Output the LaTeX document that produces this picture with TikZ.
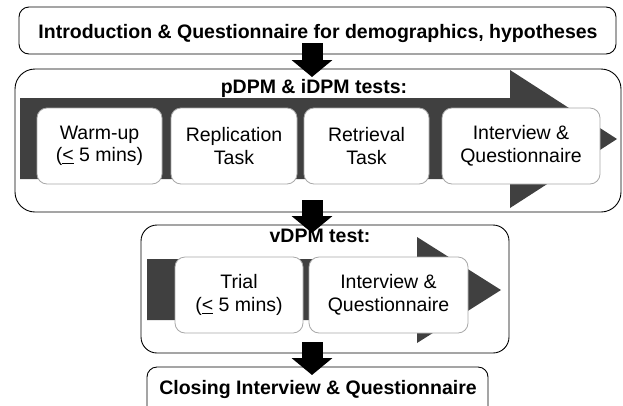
\documentclass[tikz,border=0pt]{standalone}
\usepackage{fontspec}
\setmainfont{Liberation Sans}
\usetikzlibrary{arrows.meta}
\definecolor{bandgray}{HTML}{404040}
\definecolor{boxline}{HTML}{A8A8A8}
\newcommand{\myle}{\underline{<}}
\begin{document}
\begin{tikzpicture}[x=1pt,y=-1pt,
  outerbox/.style={draw=black, line width=0.9pt, fill=white, rounded corners=#1},
  taskbox/.style={draw=boxline, line width=0.8pt, fill=white, rounded corners=10pt,
    align=center, inner sep=0pt, minimum height=76pt,
    font=\fontsize{19.5}{22.5}\selectfont},
  headtext/.style={font=\bfseries\fontsize{19.5}{23}\selectfont, anchor=base, inner sep=0pt},
  band/.style={fill=bandgray, draw=none},
  bigarrow/.style={line width=21pt, draw=black, -{Triangle[length=17pt,width=40pt]}}
]
\useasboundingbox (0,0) rectangle (623,405);
\clip (0,0) rectangle (623,405);

% top box
\draw[outerbox=10pt] (19,7) rectangle (616,54);
\node[headtext] (introtext) at (318,38) {Introduction \& Questionnaire for demographics, hypotheses};

% block 1
\draw[outerbox=20pt] (15,69) rectangle (621,212);
\fill[band] (20,98) -- (510,98) -- (510,70) -- (617,139) -- (510,208) -- (510,179) -- (20,179) -- cycle;
\node[headtext] (titleA) at (314,93) {pDPM \& iDPM tests:};
\node[taskbox, minimum width=125pt] (warm) at (99.5,146) {Warm-up\\(\myle{} 5 mins)};
\node[taskbox, minimum width=126pt] (repl) at (234,146) {Replication\\Task};
\node[taskbox, minimum width=125pt] (retr) at (366.5,146) {Retrieval\\Task};
\node[taskbox, minimum width=158pt] (intA) at (521,146) {Interview \&\\Questionnaire};

% block 2
\draw[outerbox=16pt] (141,225) rectangle (509,353);
\fill[band] (147,259) -- (417,259) -- (417,237) -- (501,290) -- (417,343) -- (417,320) -- (147,320) -- cycle;
\node[headtext] (titleB) at (320,242) {vDPM test:};
\node[taskbox, minimum width=128pt] (trial) at (239,295) {Trial\\(\myle{} 5 mins)};
\node[taskbox, minimum width=159pt] (intB) at (388.5,295) {Interview \&\\Questionnaire};

% closing box
\draw[outerbox=10pt] (147,367) rectangle (488,420);
\node[headtext] (closing) at (318,394) {Closing Interview \& Questionnaire};

% big black arrows
\coordinate (a1s) at (312,43);
\coordinate (a1e) at (312,77);
\coordinate (a2s) at (312,200);
\coordinate (a2e) at (312,233);
\coordinate (a3s) at (312,342);
\coordinate (a3e) at (312,375);
\draw[bigarrow] (a1s) -- (a1e);
\draw[bigarrow] (a2s) -- (a2e);
\draw[bigarrow] (a3s) -- (a3e);
\end{tikzpicture}
\end{document}
